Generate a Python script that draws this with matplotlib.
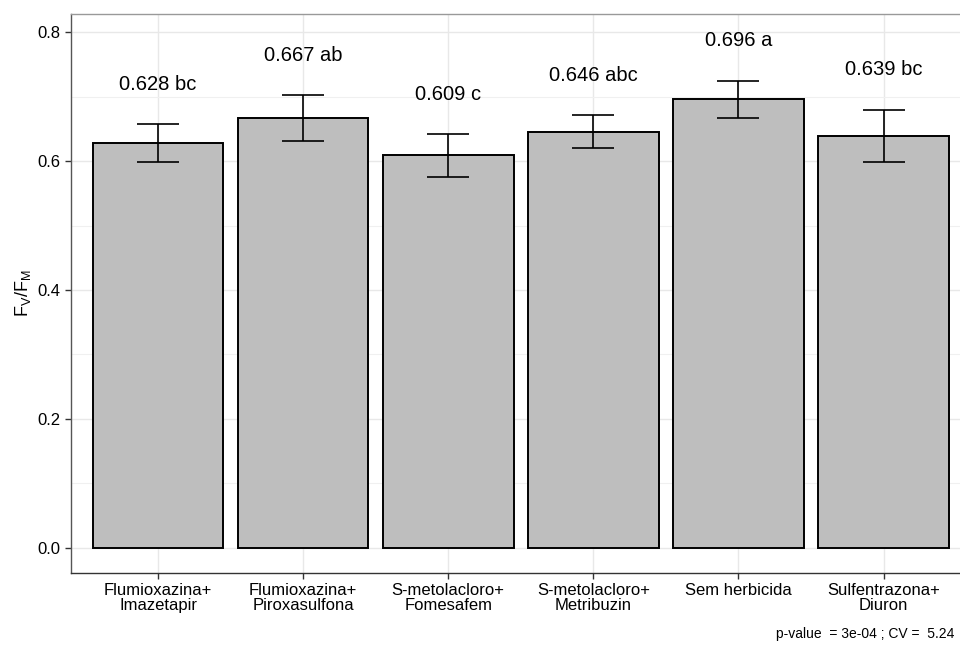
import matplotlib
matplotlib.use("Agg")
import matplotlib.pyplot as plt
import numpy as np

plt.rcParams['font.family'] = ['Liberation Sans', 'DejaVu Sans']

# treatments and Fv/Fm summary
treatments = ["Flumioxazina+\nImazetapir", "Flumioxazina+\nPiroxasulfona",
              "S-metolacloro+\nFomesafem", "S-metolacloro+\nMetribuzin",
              "Sem herbicida", "Sulfentrazona+\nDiuron"]
means = [0.628, 0.667, 0.609, 0.646, 0.696, 0.639]
errors = [0.029, 0.035, 0.033, 0.025, 0.029, 0.041]
letters = ["bc", "ab", "c", "abc", "a", "bc"]
caption = "p-value  = 3e-04 ; CV =  5.24"

fig = plt.figure(figsize=(9.6, 6.48), dpi=100)
ax = fig.add_axes([0.074, 0.116, 0.937, 0.862])

x = np.arange(len(treatments))
ax.bar(x, means, width=0.9, color="#bebebe", edgecolor="black", linewidth=1.4, zorder=2)
ax.errorbar(x, means, yerr=errors, fmt="none", ecolor="black", elinewidth=1.2,
            capsize=15, capthick=1.2, zorder=3)

for xi, m, e, let in zip(x, means, errors, letters):
    ax.text(xi, m + e + 0.062, f"{m:.3f} {let}", ha="center", va="center", fontsize=14.5)

ax.set_xlim(-0.6, 5.6)
ax.set_ylim(-0.039, 0.828)
ax.set_yticks([0.0, 0.2, 0.4, 0.6, 0.8])
ax.set_yticks([0.1, 0.3, 0.5, 0.7], minor=True)
ax.set_xticks(x)
ax.set_xticklabels(treatments, fontsize=12, linespacing=1.0)
ax.tick_params(axis="y", labelsize=12)
ax.tick_params(which="major", length=4, color="#333333", width=1.0)
ax.tick_params(which="minor", length=0)

ax.grid(True, which="major", color="#e8e8e8", linewidth=1.0, zorder=0)
ax.grid(True, which="minor", axis="y", color="#f0f0f0", linewidth=0.8, zorder=0)
ax.set_axisbelow(True)

ax.spines["left"].set_color("#555555")
ax.spines["bottom"].set_color("#333333")
ax.spines["top"].set_color("#999999")
ax.spines["right"].set_visible(False)
for s in ax.spines.values():
    s.set_linewidth(1.0)

ax.set_ylabel(r"$\mathregular{F_V/F_M}$", fontsize=13, labelpad=3)

fig.text(0.994, 0.022, caption, ha="right", va="center", fontsize=10)

fig.savefig("out.png", dpi=100)
